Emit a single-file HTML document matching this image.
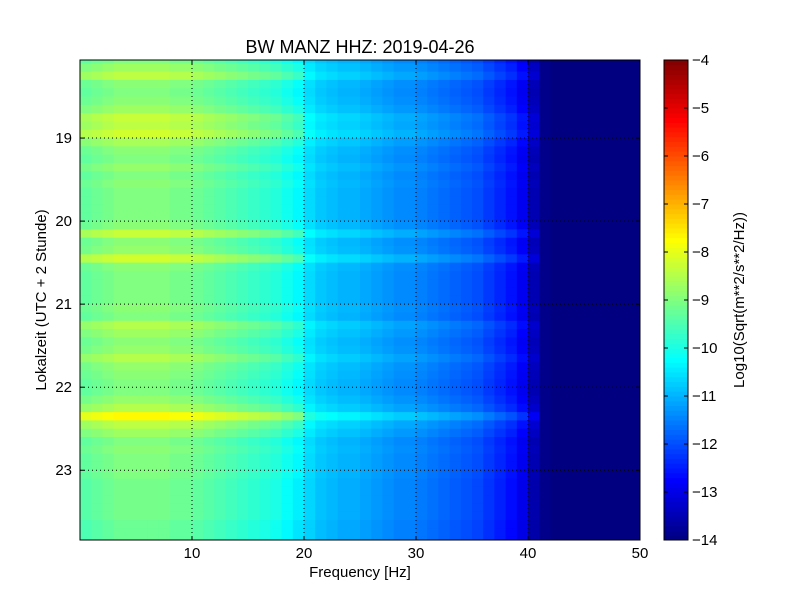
<!DOCTYPE html>
<html><head><meta charset="utf-8"><style>
body{margin:0;background:#fff;font-family:"Liberation Sans","DejaVu Sans",sans-serif;}
svg text{font-family:"Liberation Sans","DejaVu Sans",sans-serif;}
</style></head><body>
<svg id="chart" width="800" height="600" viewBox="0 0 800 600" xmlns="http://www.w3.org/2000/svg">
<rect width="800" height="600" fill="#fff"/>
<text x="360" y="53" font-size="18" text-anchor="middle">BW MANZ HHZ: 2019-04-26</text>
<g id="heat"></g>
<g id="grid"></g>
<rect x="80" y="60" width="560" height="480" fill="none" stroke="#000" stroke-width="1"/>
<g id="xt"></g>
<g id="yt"></g>
<text x="360" y="577" font-size="15" text-anchor="middle">Frequency [Hz]</text>
<text transform="translate(46,300) rotate(-90)" font-size="15" text-anchor="middle">Lokalzeit (UTC + 2 Stunde)</text>
<g id="cb"></g>
<text transform="translate(744,300) rotate(-90)" font-size="15" text-anchor="middle">Log10(Sqrt(m**2/s**2/Hz))</text>
</svg>
<script>
const freqBins=[0,1,2,3,4,5,6,7,8,9,10,11,12,13,14,15,16,17,18,19,20,21,22,23,24,25,26,27,28,29,30,31,32,33,34,35,36,37,38,39,40,41,42,43,44,45,46,47,48,49];
const baseLevel=[-9.3,-9.2,-9.1,-9.0,-9.0,-9.0,-9.0,-9.0,-9.1,-9.1,-9.2,-9.3,-9.4,-9.5,-9.6,-9.7,-9.8,-9.9,-10.1,-10.3,-10.6,-10.8,-10.9,-11.0,-11.0,-11.1,-11.2,-11.3,-11.4,-11.4,-11.5,-11.6,-11.7,-11.8,-11.9,-12.0,-12.2,-12.4,-12.6,-12.9,-13.5,-13.9,-14,-14,-14,-14,-14,-14,-14,-14];
const timeRows=[18.0,18.1,18.2,18.3,18.4,18.5,18.6,18.7,18.8,18.9,19.0,19.1,19.2,19.3,19.4,19.5,19.6,19.7,19.8,19.9,20.0,20.1,20.2,20.3,20.4,20.5,20.6,20.7,20.8,20.9,21.0,21.1,21.2,21.3,21.4,21.5,21.6,21.7,21.8,21.9,22.0,22.1,22.2,22.3,22.4,22.5,22.6,22.7,22.8,22.9,23.0,23.1,23.2,23.3,23.4,23.5,23.6,23.7,23.8];
const rowOffset=[0,0.3,0.6,0.1,0,0.1,0.3,0.7,0.6,0.8,0.4,0.1,0,0.2,0,0.1,0,0,0,0,0.1,0.7,0.1,0.2,0.8,0.1,0,0,0,0,0.1,0,0.5,0.3,0.1,0.2,0.5,0.2,0.1,0,0,0.2,0.5,1.3,0.6,0.3,0,0.1,0,0,0,-0.1,-0.1,-0.1,-0.1,-0.1,-0.2,-0.2,-0.2];
const xTicks=[10,20,30,40,50];
const yTicks=[19,20,21,22,23];
const cbTicks=[-4,-5,-6,-7,-8,-9,-10,-11,-12,-13,-14];

const NS="http://www.w3.org/2000/svg";
const X0=80,X1=640,Y0=60,Y1=540,F0=0,F1=50,T0=18.06,T1=23.84;
const xs=f=>X0+(f-F0)/(F1-F0)*(X1-X0);
const ys=t=>Y0+(t-T0)/(T1-T0)*(Y1-Y0);
const cs=v=>Y0+(-4-v)/10*(Y1-Y0);
function jet(v){let x=(v+14)/10;x=Math.max(0,Math.min(1,x));
 const c=t=>Math.round(255*Math.max(0,Math.min(1,t)));
 const r=c(Math.min(4*x-1.5,-4*x+4.5)),g=c(Math.min(4*x-0.5,-4*x+3.5)),b=c(Math.min(4*x+0.5,-4*x+2.5));
 return `rgb(${r},${g},${b})`;}
function mk(tag,attrs,parent){const e=document.createElementNS(NS,tag);for(const k in attrs)e.setAttribute(k,attrs[k]);parent.appendChild(e);return e;}
const heat=document.getElementById('heat');
timeRows.forEach((t,i)=>{
 const ya=Math.max(Y0,ys(t)),yb=Math.min(Y1,ys(t+0.1));if(yb<=ya)return;
 freqBins.forEach((f,j)=>{
  const w=f<41?(f<20?1:0.5):0;
  const v=baseLevel[j]+rowOffset[i]*w;
  const r=mk('rect',{x:xs(f),y:ya,width:xs(f+1)-xs(f)+0.5,height:yb-ya+0.5,fill:jet(v)},heat);
  
  
 });
});
const grid=document.getElementById('grid'),xt=document.getElementById('xt'),yt=document.getElementById('yt');
xTicks.forEach(v=>{const x=xs(v);
 if(v<50){const l=mk('line',{x1:x,x2:x,y1:Y0,y2:Y1,stroke:'#000','stroke-dasharray':'1,3','stroke-width':1},grid);}
 mk('line',{x1:x,x2:x,y1:Y1,y2:Y1-4,stroke:'#000'},xt);mk('line',{x1:x,x2:x,y1:Y0,y2:Y0+4,stroke:'#000'},xt);
 const t=mk('text',{x:x,y:Y1+18,'font-size':15,'text-anchor':'middle'},xt);t.textContent=v;
 });
yTicks.forEach(v=>{const y=ys(v);
 const l=mk('line',{x1:X0,x2:X1,y1:y,y2:y,stroke:'#000','stroke-dasharray':'1,3','stroke-width':1},grid);
 mk('line',{x1:X0,x2:X0+4,y1:y,y2:y,stroke:'#000'},yt);mk('line',{x1:X1,x2:X1-4,y1:y,y2:y,stroke:'#000'},yt);
 const t=mk('text',{x:X0-8,y:y+5,'font-size':15,'text-anchor':'end'},yt);t.textContent=v;
 });
const cb=document.getElementById('cb');
for(let k=0;k<100;k++){const v=-14+k*0.1;mk('rect',{x:664,y:cs(v+0.1),width:24,height:(Y1-Y0)/100+0.5,fill:jet(v+0.05)},cb);}
mk('rect',{x:664,y:Y0,width:24,height:Y1-Y0,fill:'none',stroke:'#000'},cb);
cbTicks.forEach(v=>{const y=cs(v);
 mk('line',{x1:664,x2:668,y1:y,y2:y,stroke:'#000'},cb);mk('line',{x1:688,x2:684,y1:y,y2:y,stroke:'#000'},cb);
 const t=mk('text',{x:692,y:y+5,'font-size':15},cb);t.textContent='\u2212'+Math.abs(v);
 });
</script>
</body></html>
